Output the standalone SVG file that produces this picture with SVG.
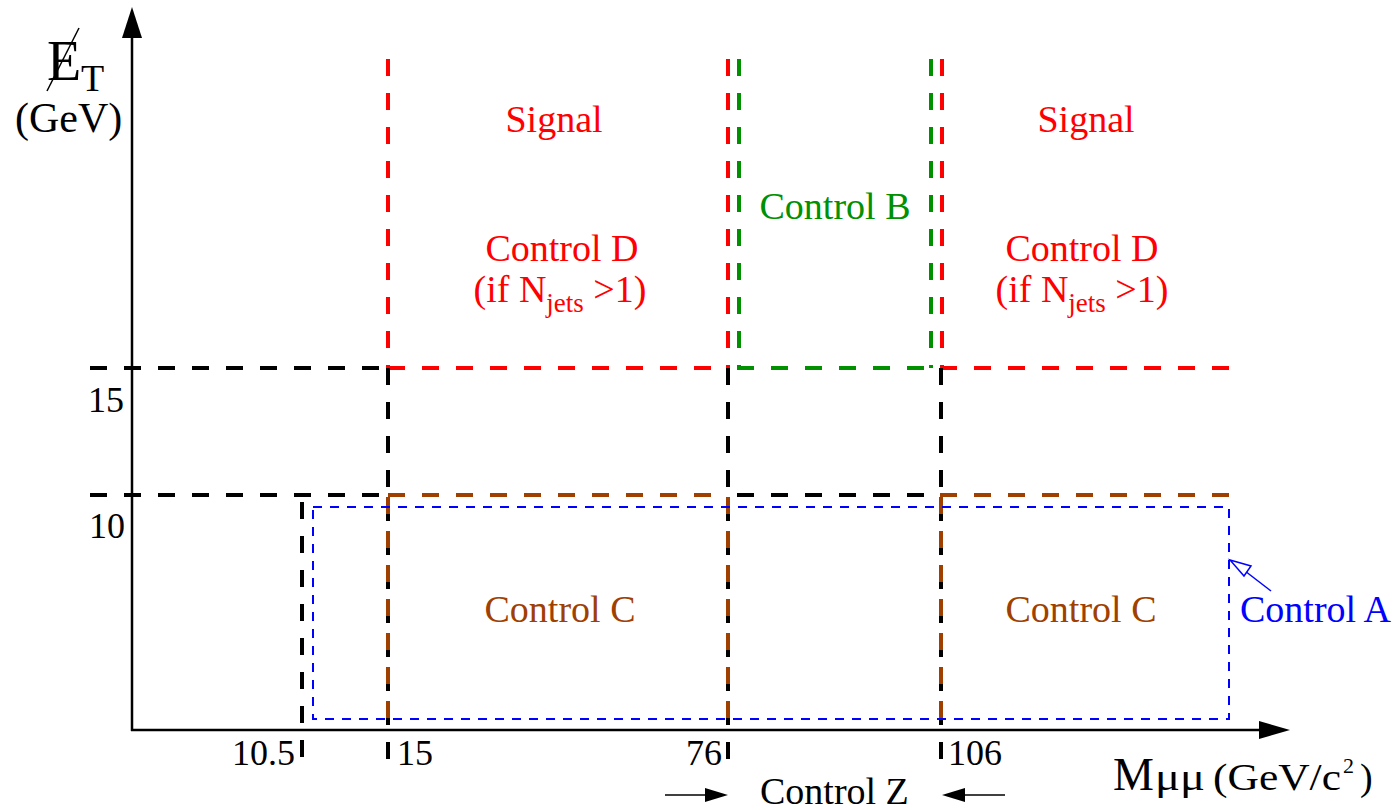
<svg xmlns="http://www.w3.org/2000/svg" width="1398" height="810" viewBox="0 0 1398 810">
<style>
text{font-family:"Liberation Serif","Times New Roman",serif}
.t36{font-size:36px}
.lb{font-size:38px}
.dk{stroke:#000;stroke-width:4;stroke-dasharray:17 17;fill:none}
.dr{stroke:#ff0000;stroke-width:4;stroke-dasharray:17 17;fill:none}
.dg{stroke:#009000;stroke-width:4;stroke-dasharray:17 17;fill:none}
.db{stroke:#a04000;stroke-width:4;stroke-dasharray:17 17;fill:none}
.ax{stroke:#000;stroke-width:2.5;fill:none}
.red{fill:#ff0000}.grn{fill:#009000}.brn{fill:#a04000}.blu{fill:#0000ff}
</style>
<rect width="1398" height="810" fill="#fff"/>
<g id="connectors">
<line class="ax" x1="132" y1="731" x2="132" y2="30"/>
<polygon points="132,7 122,38 142,38" fill="#000"/>
<line class="ax" x1="131" y1="730" x2="1262" y2="730"/>
<polygon points="1290,730 1259,721 1259,739" fill="#000"/>
<line class="dk" x1="90" y1="368" x2="388" y2="368"/>
<line class="dr" x1="388" y1="368" x2="728" y2="368"/>
<line class="dg" x1="737" y1="368" x2="932" y2="368"/>
<line class="dr" x1="940" y1="368" x2="1235" y2="368"/>
<line class="dk" x1="90" y1="495" x2="388" y2="495"/>
<line class="db" x1="388" y1="495" x2="728" y2="495"/>
<line class="dk" x1="737" y1="495" x2="940" y2="495"/>
<line class="db" x1="940" y1="495" x2="1235" y2="495"/>
<line class="dr" x1="388" y1="59" x2="388" y2="368"/>
<line class="dk" x1="388" y1="368" x2="388" y2="765"/>
<line class="db" x1="388" y1="497" x2="388" y2="730"/>
<line class="dr" x1="728" y1="59" x2="728" y2="368"/>
<line class="dg" x1="739" y1="59" x2="739" y2="368"/>
<line class="dk" x1="728" y1="368" x2="728" y2="765"/>
<line class="db" x1="728" y1="497" x2="728" y2="730"/>
<line class="dg" x1="931" y1="59" x2="931" y2="368"/>
<line class="dr" x1="942" y1="59" x2="942" y2="368"/>
<line class="dk" x1="941" y1="368" x2="941" y2="765"/>
<line class="db" x1="941" y1="497" x2="941" y2="730"/>
<line class="dk" x1="302" y1="502" x2="302" y2="765"/>
<rect x="313" y="507" width="916" height="212" fill="none" stroke="#0000ff" stroke-width="2" stroke-dasharray="9 8"/>
<line x1="1271" y1="591" x2="1245" y2="571" stroke="#0000ff" stroke-width="1.5"/>
<polygon points="1230,560 1251,566 1244,576" fill="#fff" stroke="#0000ff" stroke-width="1.5"/>
<line x1="665" y1="795" x2="708" y2="795" stroke="#000" stroke-width="1.5"/>
<polygon points="728,795 705,788 705,802" fill="#000"/>
<line x1="1005" y1="795" x2="962" y2="795" stroke="#000" stroke-width="1.5"/>
<polygon points="942,795 965,788 965,802" fill="#000"/>
</g>
<g id="axis-labels">
<text x="47" y="80" style="font-size:56px">E</text>
<line x1="47" y1="91" x2="79" y2="28" stroke="#000" stroke-width="1.5"/>
<text x="81" y="91" style="font-size:38px">T</text>
<text x="15" y="132" style="font-size:42px">(GeV)</text>
<text x="1113" y="790" style="font-size:46px">M</text>
<text x="1155" y="790" style="font-size:38px" textLength="50" lengthAdjust="spacingAndGlyphs">μμ</text>
<text x="1213" y="790" style="font-size:38px" textLength="128" lengthAdjust="spacingAndGlyphs">(GeV/c</text>
<text x="1343" y="773" style="font-size:22px">2</text>
<text x="1360" y="790" style="font-size:38px">)</text>
</g>
<g id="ticks">
<text class="t36" x="88" y="412">15</text>
<text class="t36" x="89" y="538">10</text>
<text class="t36" x="295" y="765" text-anchor="end">10.5</text>
<text class="t36" x="397" y="765">15</text>
<text class="t36" x="722" y="765" text-anchor="end">76</text>
<text class="t36" x="948" y="765">106</text>
</g>
<g id="signal-left"><text class="red lb" x="554" y="132" text-anchor="middle">Signal</text></g>
<g id="signal-right"><text class="red lb" x="1086" y="132" text-anchor="middle">Signal</text></g>
<g id="controlD-left"><text class="red lb" x="562" y="261" text-anchor="middle">Control D</text>
<text class="red lb" x="560" y="302" text-anchor="middle">(if N<tspan style="font-size:27px" dy="10">jets</tspan><tspan dy="-10"> &gt;1)</tspan></text></g>
<g id="controlD-right"><text class="red lb" x="1082" y="261" text-anchor="middle">Control D</text>
<text class="red lb" x="1082" y="302" text-anchor="middle">(if N<tspan style="font-size:27px" dy="10">jets</tspan><tspan dy="-10"> &gt;1)</tspan></text></g>
<g id="controlB"><text class="grn lb" x="835" y="219" text-anchor="middle">Control B</text></g>
<g id="controlC-left"><text class="brn lb" x="560" y="622" text-anchor="middle">Control C</text></g>
<g id="controlC-right"><text class="brn lb" x="1081" y="622" text-anchor="middle">Control C</text></g>
<g id="controlA"><text class="blu lb" x="1240" y="622">Control A</text></g>
<g id="controlZ"><text class="lb" x="760" y="804">Control Z</text></g>
</svg>
